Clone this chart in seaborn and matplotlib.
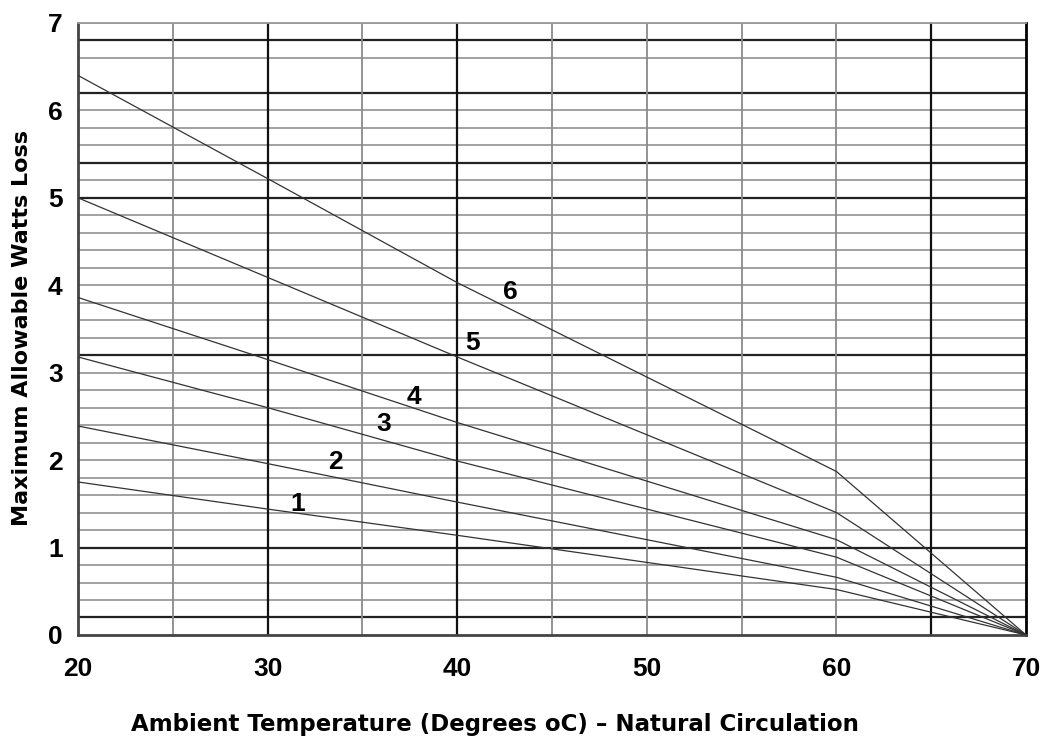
import numpy as np
import pandas as pd
import seaborn as sns
import matplotlib.pyplot as plt

# Ambient temperature (deg C) and max allowable watts loss for curves 1..6
temp = [20, 30, 40, 50, 60, 70]
curve_1 = [1.75, 1.44, 1.14, 0.83, 0.52, 0.0]
curve_2 = [2.39, 1.96, 1.52, 1.09, 0.66, 0.0]
curve_3 = [3.18, 2.60, 1.99, 1.44, 0.89, 0.0]
curve_4 = [3.86, 3.15, 2.43, 1.76, 1.09, 0.0]
curve_5 = [5.00, 4.09, 3.18, 2.29, 1.40, 0.0]
curve_6 = [6.40, 5.22, 4.03, 2.95, 1.87, 0.0]
curve_names = ['1', '2', '3', '4', '5', '6']

# where the curve numbers sit (data coords)
label_x = [31.6, 33.6, 36.1, 37.7, 40.8, 42.8]
label_y = [1.50, 1.98, 2.41, 2.72, 3.34, 3.92]

x_ticks = [20, 30, 40, 50, 60, 70]
y_ticks = [0, 1, 2, 3, 4, 5, 6, 7]

df = pd.DataFrame({
    'temp': temp * 6,
    'watts': curve_1 + curve_2 + curve_3 + curve_4 + curve_5 + curve_6,
    'curve': [c for c in curve_names for _ in temp],
})

sns.set_style('white')
plt.rcParams['font.family'] = ['Liberation Sans', 'DejaVu Sans']

fig, ax = plt.subplots(figsize=(10.53, 7.51), dpi=100)
fig.subplots_adjust(left=0.0741, right=0.9744, bottom=0.1545, top=0.9694)

# grid: thin grey every 0.2, a few heavier black lines
thick_y = [0.2, 1.0, 3.2, 5.0, 5.4, 6.2, 6.8]
thin_y = [round(v, 1) for v in np.arange(0.2, 7.01, 0.2)]
thin_y = [v for v in thin_y if v not in thick_y and v != 6.4]
thick_x = [30, 40, 65]
thin_x = [25, 35, 45, 50, 55, 60]

for v in thin_y:
    ax.axhline(v, color='#9a9a9a', lw=1.3, zorder=1)
for v in thick_y:
    ax.axhline(v, color='#222222', lw=1.6, zorder=1)
for v in thin_x:
    ax.axvline(v, color='#8a8a8a', lw=1.3, zorder=1)
for v in thick_x:
    ax.axvline(v, color='#111111', lw=1.6, zorder=1)

sns.lineplot(data=df, x='temp', y='watts', hue='curve',
             palette=['#333333'] * 6, lw=0.9, legend=False, ax=ax, zorder=3)

for name, lx, ly in zip(curve_names, label_x, label_y):
    ax.text(lx, ly, name, fontsize=19, fontweight='bold', ha='center',
            va='center', color='black', zorder=4)

ax.set_xlim(20, 70)
ax.set_ylim(0, 7)
ax.set_xticks(x_ticks)
ax.set_yticks(y_ticks)
ax.tick_params(length=0, labelsize=19, labelcolor='black')
ax.tick_params(axis='y', pad=11)
ax.tick_params(axis='x', pad=16)
for t in ax.get_xticklabels() + ax.get_yticklabels():
    t.set_fontweight('bold')
ax.set(xlabel='', ylabel='')

for side in ['left', 'bottom']:
    ax.spines[side].set_color('#444444')
    ax.spines[side].set_linewidth(2)
ax.spines['right'].set_color('black')
ax.spines['right'].set_linewidth(2)
ax.spines['top'].set_color('#9a9a9a')
ax.spines['top'].set_linewidth(1.3)

fig.text(0.47, 0.035, 'Ambient Temperature (Degrees oC) \u2013 Natural Circulation',
         fontsize=16.5, fontweight='bold', ha='center', va='center',
         color='black', family=['DejaVu Sans'])
fig.text(0.021, 0.563, 'Maximum Allowable Watts Loss', fontsize=16,
         fontweight='bold', rotation=90, ha='center', va='center',
         color='black', family=['DejaVu Sans'])

fig.savefig('out.png', dpi=100)
